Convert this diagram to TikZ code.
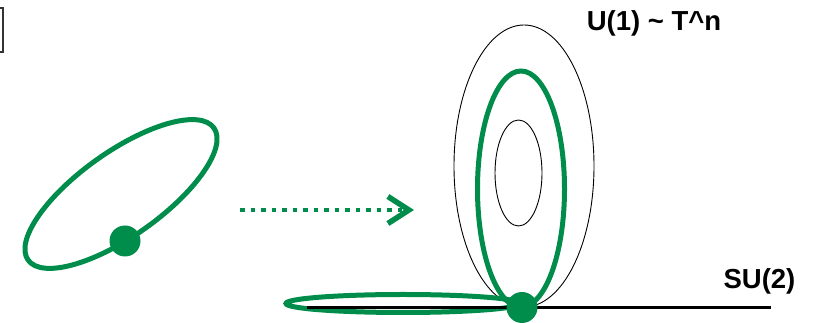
\documentclass[tikz,border=0pt]{standalone}
\usepackage{fontspec}
\setmainfont{Liberation Sans}
\usetikzlibrary{arrows.meta}
\definecolor{dgreen}{RGB}{0,140,74}
\tikzset{
  greenring/.style={draw=dgreen, line width=5pt},
  thinring/.style={draw=black, line width=0.9pt},
  gdot/.style={circle, fill=dgreen, inner sep=0pt, minimum size=31pt},
  lbl/.style={font=\bfseries\fontsize{27.5}{32}\selectfont, inner sep=0pt},
  dotarrow/.style={draw=dgreen, line width=4.5pt, dash pattern=on 4.5pt off 6pt,
    -{Straight Barb[length=21pt,width=27pt,line width=5.5pt]}}
}
\begin{document}
\begin{tikzpicture}[x=1pt,y=1pt]
\useasboundingbox (0,0) rectangle (814,323);
% bracket at top-left
\draw[line width=1.4pt, black!80] (0,315) -- (3,315) -- (3,271) -- (0,271);
% left orbit
\draw[greenring, rotate around={35.4:(121,129)}] (121,129) ellipse [x radius=114, y radius=42];
\node[gdot] (p) at (125,82) {};
% dotted arrow
\coordinate (as) at (240,113);
\coordinate (ae) at (414,113);
\draw[dotarrow] (as) -- (ae);
% right structure
\draw[thinring] (524,157) ellipse [x radius=70, y radius=141];
\draw[thinring] (518.5,150) ellipse [x radius=23.5, y radius=53];
\draw[greenring] (521,134) ellipse [x radius=43.5, y radius=118];
\draw[greenring] (403,19.5) ellipse [x radius=117, y radius=9];
\coordinate (sa) at (307,15);
\coordinate (sb) at (771,15);
\draw[line width=3pt] (sa) -- (sb);
\node[gdot] (q) at (522,15.5) {};
% labels
\node[lbl] (u1) at (654,300) {U(1) \char`\~{} T\char`\^{}n};
\node[lbl] (su2) at (759.5,42) {SU(2)};
\end{tikzpicture}
\end{document}
